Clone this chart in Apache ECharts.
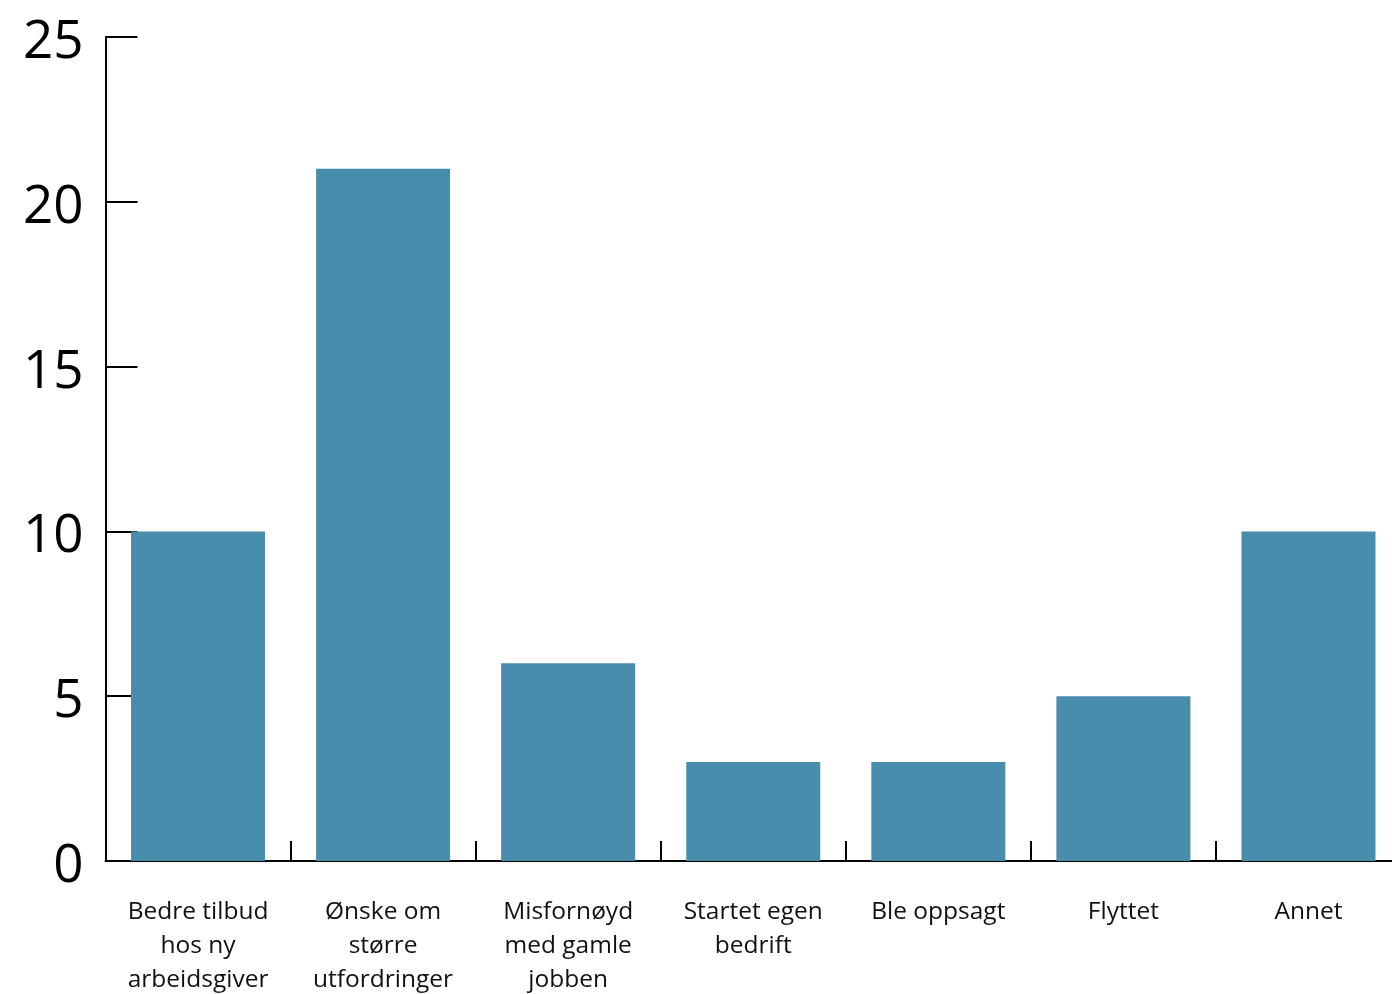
<!DOCTYPE html>
<html>
<head>
<meta charset="utf-8">
<script src="https://cdn.jsdelivr.net/npm/echarts@6/dist/echarts.min.js"></script>
<style>
html,body{margin:0;padding:0;background:#fff;}
#chart{width:1392px;height:994px;}
</style>
</head>
<body>
<div id="chart"></div>
<script>
const categories = [
  "Bedre tilbud\nhos ny\narbeidsgiver",
  "Ønske om\nstørre\nutfordringer",
  "Misfornøyd\nmed gamle\njobben",
  "Startet egen\nbedrift",
  "Ble oppsagt",
  "Flyttet",
  "Annet"
];
const values = [10, 21, 6, 3, 3, 5, 10];
const yTicks = [0, 5, 10, 15, 20, 25];

const chart = echarts.init(document.getElementById('chart'), null, {renderer: 'canvas'});
chart.setOption({
  animation: false,
  backgroundColor: '#ffffff',
  grid: {left: 105.5, right: -9, top: 37, bottom: 133, containLabel: false, outerBoundsMode: 'none'},
  xAxis: {
    type: 'category',
    data: categories,
    boundaryGap: true,
    axisLine: {show: true, lineStyle: {color: '#000', width: 2}},
    axisTick: {show: true, inside: true, length: 20, alignWithLabel: false, lineStyle: {color: '#000', width: 2}},
    axisLabel: {
      interval: 0,
      margin: 34,
      fontFamily: 'Open Sans',
      fontSize: 24.5,
      lineHeight: 34,
      color: '#111',
      align: 'center'
    },
    splitLine: {show: false}
  },
  yAxis: {
    type: 'value',
    min: yTicks[0],
    max: yTicks[yTicks.length - 1],
    interval: 5,
    axisLine: {show: true, lineStyle: {color: '#000', width: 2}},
    axisTick: {show: true, inside: true, length: 32, lineStyle: {color: '#000', width: 2}},
    axisLabel: {
      margin: 22,
      verticalAlign: 'middle',
      formatter: '{v|{value}}',
      rich: {
        v: {
          fontFamily: 'Open Sans',
          fontSize: 53,
          color: '#000',
          padding: [12, 0, 0, 0]
        }
      }
    },
    splitLine: {show: false}
  },
  series: [{
    type: 'bar',
    data: values,
    barWidth: '72.4%',
    itemStyle: {color: '#488dab'},
    z: 2
  }]
});
</script>
</body>
</html>
